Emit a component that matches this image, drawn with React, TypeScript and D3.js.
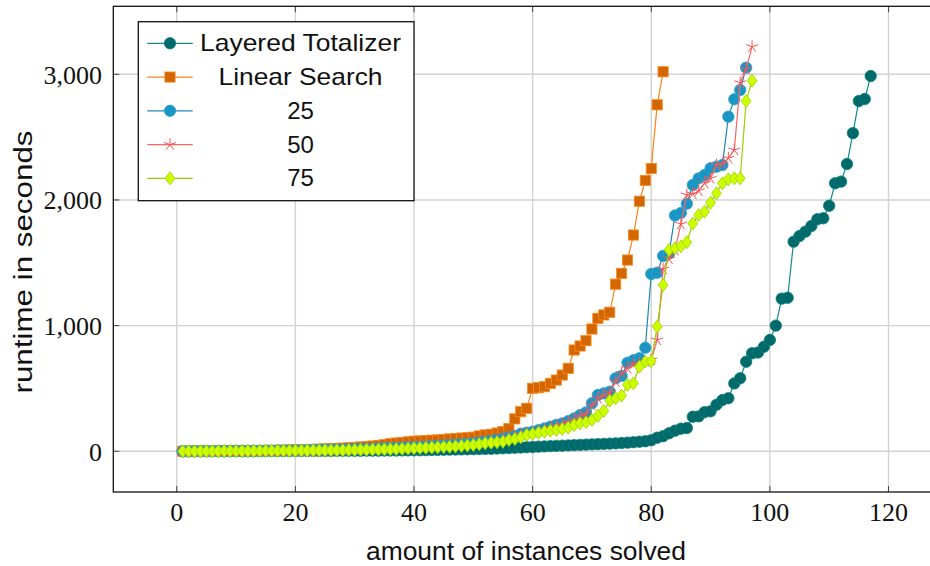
import React from 'react';
import * as d3 from 'd3';

const layeredTotalizer = [
  0, 0, 0, 0, 0, 1, 1, 1, 1, 1, 1, 1, 1, 2, 2, 2, 2, 2, 2, 2,
  3, 3, 3, 3, 3, 3, 4, 4, 4, 4, 4, 5, 5, 5, 6, 6, 6, 7, 7, 8,
  8, 9, 10, 11, 12, 13, 14, 15, 16, 17, 18, 19, 20, 22, 24, 26, 28, 30, 32, 34,
  37, 39, 41, 43, 45, 47, 49, 51, 53, 55, 57, 59, 61, 63, 66, 69, 72, 76, 80, 88,
  108, 120, 143, 164, 180, 185, 275, 278, 312, 318, 370, 408, 422, 540, 581, 713, 780, 786, 832, 886,
  1000, 1215, 1222, 1668, 1713, 1748, 1793, 1846, 1854, 1954, 2133, 2146, 2286, 2532, 2787, 2803, 2986,
];

const linearSearch = [
  1, 1, 2, 2, 2, 3, 3, 3, 4, 4,
  5, 5, 6, 6, 7, 7, 8, 9, 10, 11,
  12, 14, 15, 17, 19, 21, 23, 25, 28, 31,
  34, 38, 42, 46, 52, 60, 66, 70, 75, 80,
  82, 84, 88, 90, 94, 98, 102, 105, 108, 112,
  122, 130, 135, 145, 156, 180, 258, 315, 342, 501,
  506, 514, 541, 567, 607, 660, 806, 838, 880, 973,
  1058, 1085, 1106, 1330, 1416, 1522, 1721, 1990, 2155, 2250,
  2757, 3020,
];

const series25 = [
  0, 0, 1, 1, 1, 1, 2, 2, 2, 3,
  3, 3, 4, 4, 5, 5, 6, 6, 7, 7,
  8, 9, 10, 11, 12, 13, 14, 15, 16, 17,
  18, 19, 20, 22, 24, 26, 28, 30, 32, 34,
  36, 38, 41, 44, 47, 50, 53, 56, 60, 64,
  70, 76, 84, 92, 100, 110, 120, 140, 148, 155,
  168, 182, 196, 210, 222, 240, 262, 288, 310, 382,
  448, 461, 474, 581, 600, 705, 725, 740, 824, 1411,
  1421, 1554, 1575, 1876, 1897, 1970, 2119, 2172, 2199, 2252,
  2265, 2278, 2663, 2801, 2875, 3053,
];

const series50 = [
  0, 0, 1, 1, 1, 1, 2, 2, 2, 3,
  3, 3, 4, 4, 5, 5, 6, 6, 7, 7,
  8, 9, 10, 11, 12, 13, 14, 15, 16, 17,
  18, 19, 20, 22, 24, 26, 28, 30, 32, 34,
  36, 38, 41, 44, 47, 50, 53, 56, 60, 64,
  70, 76, 82, 90, 98, 108, 118, 135, 145, 152,
  162, 175, 190, 205, 218, 232, 255, 280, 300, 365,
  420, 448, 466, 554, 621, 660, 695, 700, 713, 727,
  886, 1450, 1530, 1600, 1808, 2040, 2048, 2074, 2133, 2172,
  2278, 2286, 2332, 2398, 2933, 3040, 3220,
];

const series75 = [
  0, 0, 0, 1, 1, 1, 1, 2, 2, 2,
  2, 3, 3, 3, 4, 4, 4, 5, 5, 5,
  6, 6, 7, 7, 8, 8, 9, 9, 10, 11,
  12, 13, 14, 15, 16, 17, 18, 20, 22, 24,
  26, 28, 30, 32, 34, 36, 39, 42, 46, 50,
  56, 64, 68, 72, 76, 90, 98, 111, 130, 138,
  148, 156, 164, 169, 177, 188, 209, 223, 231, 249,
  283, 321, 403, 422, 443, 528, 541, 673, 713, 718,
  992, 1323, 1602, 1615, 1631, 1664, 1812, 1880, 1907, 1978,
  2053, 2133, 2164, 2172, 2172, 2787, 2949,
];

const xTicks = [0, 20, 40, 60, 80, 100, 120];
const yTicks = [0, 1000, 2000, 3000];
const legendLabels = ['Layered Totalizer', 'Linear Search', '25', '50', '75'];
const xAxisLabel = 'amount of instances solved';
const yAxisLabel = 'runtime in seconds';

type MarkType = 'circle' | 'square' | 'star' | 'diamond';
interface SeriesStyle {
  data: number[];
  lineColor: string;
  fill: string;
  stroke: string;
  mark: MarkType;
}

const styles: SeriesStyle[] = [
  { data: layeredTotalizer, lineColor: '#138b8b', fill: '#006a6a', stroke: '#0c7c7c', mark: 'circle' },
  { data: linearSearch, lineColor: '#ff8214', fill: '#d26600', stroke: '#ff8a1e', mark: 'square' },
  { data: series25, lineColor: '#1f86b0', fill: '#1b96c4', stroke: '#2aa2cc', mark: 'circle' },
  { data: series50, lineColor: '#ff6464', fill: 'none', stroke: '#ff5050', mark: 'star' },
  { data: series75, lineColor: '#9ccc00', fill: '#ccff00', stroke: '#9fd000', mark: 'diamond' },
];

function Mark({ type, cx, cy, fill, stroke }: { type: MarkType; cx: number; cy: number; fill: string; stroke: string }) {
  if (type === 'circle') {
    return <circle cx={cx} cy={cy} r={5.7} fill={fill} stroke={stroke} strokeWidth={0.8} />;
  }
  if (type === 'square') {
    return <rect x={cx - 5.1} y={cy - 5.1} width={10.2} height={10.2} fill={fill} stroke={stroke} strokeWidth={0.8} />;
  }
  if (type === 'diamond') {
    const w = 4.9, h = 6.5;
    return (
      <path d={`M${cx},${cy - h}L${cx + w},${cy}L${cx},${cy + h}L${cx - w},${cy}Z`} fill={fill} stroke={stroke} strokeWidth={0.8} />
    );
  }
  const r = 6.3;
  let d = '';
  for (let k = 0; k < 5; k++) {
    const a = ((90 + 72 * k) * Math.PI) / 180;
    d += `M${cx},${cy}L${cx + r * Math.cos(a)},${cy - r * Math.sin(a)}`;
  }
  return <path d={d} fill="none" stroke={stroke} strokeWidth={1} />;
}

export default function App() {
  const W = 930;
  const H = 566;
  const left = 113.3, right = 939.5, top = 6.3, bottom = 492;
  const x = d3.scaleLinear().domain([-10.7, 128.6]).range([left, right]);
  const y = d3.scaleLinear().domain([-324, 3541]).range([bottom, top]);
  const fmt = d3.format(',');
  const lineGen = d3
    .line<number>()
    .x((_, i) => x(i + 1))
    .y((d) => y(d));

  const legX = 138.3, legY = 21.7, legW = 275.7, legH = 179;
  const rowY = (k: number) => 43.3 + k * 33.75;

  return (
    <svg width={W} height={H} style={{ position: 'absolute', left: 0, top: 0, background: '#fff' }}>
      <rect x={0} y={0} width={W} height={H} fill="#fff" />
      {/* grid */}
      <g stroke="#d2d2d2" strokeWidth={1.4}>
        {xTicks.map((t) => (
          <line key={'gx' + t} x1={x(t)} x2={x(t)} y1={top} y2={bottom} />
        ))}
        {yTicks.map((t) => (
          <line key={'gy' + t} x1={left} x2={right} y1={y(t)} y2={y(t)} />
        ))}
      </g>
      {/* ticks */}
      <g stroke="#444" strokeWidth={1}>
        {xTicks.map((t) => (
          <g key={'tx' + t}>
            <line x1={x(t)} x2={x(t)} y1={bottom} y2={bottom - 6} />
            <line x1={x(t)} x2={x(t)} y1={top} y2={top + 6} />
          </g>
        ))}
        {yTicks.map((t) => (
          <g key={'ty' + t}>
            <line x1={left} x2={left + 6} y1={y(t)} y2={y(t)} />
            <line x1={right} x2={right - 6} y1={y(t)} y2={y(t)} />
          </g>
        ))}
      </g>
      {/* series */}
      {styles.map((s, si) => (
        <g key={'s' + si}>
          <path d={lineGen(s.data) || ''} fill="none" stroke={s.lineColor} strokeWidth={1.2} />
          {s.data.map((v, i) => (
            <Mark key={i} type={s.mark} cx={x(i + 1)} cy={y(v)} fill={s.fill} stroke={s.stroke} />
          ))}
        </g>
      ))}
      {/* frame */}
      <rect x={left} y={top} width={right - left} height={bottom - top} fill="none" stroke="#111" strokeWidth={1.3} />
      {/* tick labels */}
      <g fontFamily="'Liberation Serif', 'DejaVu Serif', serif" fontSize={26} fill="#111">
        {xTicks.map((t) => (
          <text key={'lx' + t} x={x(t)} y={521} textAnchor="middle">
            {fmt(t)}
          </text>
        ))}
        {yTicks.map((t) => (
          <text key={'ly' + t} x={102} y={y(t) + 9.3} textAnchor="end">
            {fmt(t)}
          </text>
        ))}
      </g>
      {/* axis labels */}
      <g fontFamily="'Liberation Sans', Arial, sans-serif" fill="#111">
        <text x={526} y={560} textAnchor="middle" fontSize={25} textLength={320} lengthAdjust="spacingAndGlyphs">
          {xAxisLabel}
        </text>
        <text
          transform={`translate(32.3,262) rotate(-90)`}
          textAnchor="middle"
          fontSize={26}
          textLength={263}
          lengthAdjust="spacingAndGlyphs"
        >
          {yAxisLabel}
        </text>
      </g>
      {/* legend */}
      <g>
        <rect x={legX} y={legY} width={legW} height={legH} fill="#fff" stroke="#111" strokeWidth={1.3} />
        {styles.map((s, k) => (
          <g key={'lg' + k}>
            <line x1={147.3} x2={192.7} y1={rowY(k)} y2={rowY(k)} stroke={s.lineColor} strokeWidth={1.2} />
            <Mark type={s.mark} cx={170} cy={rowY(k)} fill={s.fill} stroke={s.stroke} />
            <text
              x={300.5}
              y={rowY(k) + 8}
              textAnchor="middle"
              fontFamily="'Liberation Sans', Arial, sans-serif"
              fontSize={24}
              fill="#111"
              {...(legendLabels[k].length > 3 ? { textLength: k === 0 ? 201 : 164, lengthAdjust: 'spacingAndGlyphs' } : {})}
            >
              {legendLabels[k]}
            </text>
          </g>
        ))}
      </g>
    </svg>
  );
}
